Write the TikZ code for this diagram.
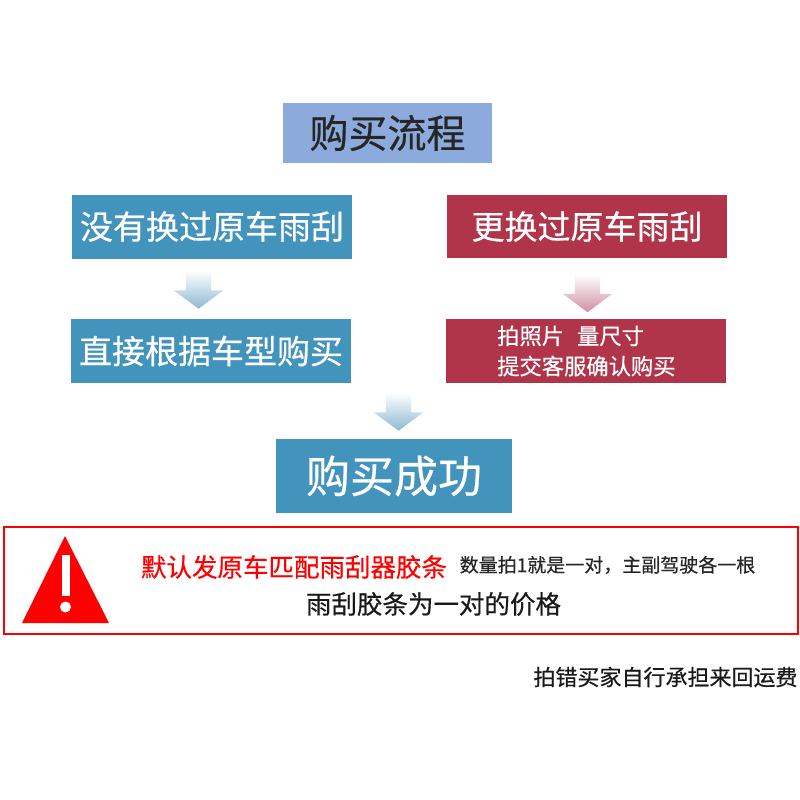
\documentclass[tikz,border=0pt]{standalone}
\usepackage{fontspec}
\setmainfont[FakeBold=0.5]{Noto Sans CJK SC}
\usetikzlibrary{shapes.arrows}
\definecolor{boxblue}{HTML}{4394BD}
\definecolor{boxred}{HTML}{B0344A}
\definecolor{titleblue}{HTML}{8CAADB}
\definecolor{arrowblue}{HTML}{8DB9D2}
\definecolor{arrowred}{HTML}{D08FA3}
\newcommand{\fs}[1]{\fontsize{#1}{#1}\selectfont}
\tikzset{
	flowbox/.style={inner sep=0pt, text=white, minimum width=280pt, minimum height=64pt},
	downarrow/.style={single arrow, shape border rotate=270, inner sep=0pt, text width=25pt, minimum height=38pt, single arrow head extend=12pt, single arrow head indent=0pt, single arrow tip angle=107, top color=white, draw=none}
}
\begin{document}
\begin{tikzpicture}[x=1pt, y=-1pt]
		\useasboundingbox (0,0) rectangle (800,800);
		\node[inner sep=0pt, fill=titleblue, text=black!85, minimum width=209pt, minimum height=60pt, font=\fs{39}] (title) at (387.5,133){购买流程};
		\node[flowbox, fill=boxblue, font=\fs{33}] (noswap) at (212,226.5){没有换过原车雨刮};
		\node[flowbox, fill=boxred, minimum height=63pt, font=\fs{33}] (swapped) at (587,226.5){更换过原车雨刮};
		\node[flowbox, fill=boxblue, font=\fs{33}] (direct) at (211,351){直接根据车型购买};
		\node[flowbox, fill=boxred] (photo) at (586,351){};
		\node[inner sep=0pt, anchor=west, align=left, text=white, font=\fs{22.3}] (phototext) at (497,351){拍照片\hspace{13pt}量尺寸\\[8pt]提交客服确认购买};
		\node[flowbox, fill=boxblue, minimum width=236pt, minimum height=74pt, font=\fs{44}] (success) at (394,476){购买成功};
		\node[downarrow, bottom color=arrowblue] (arrowa) at (198.5,285){};
		\node[downarrow, bottom color=arrowred] (arrowb) at (587.5,288.5){};
		\node[downarrow, bottom color=arrowblue] (arrowc) at (398.5,407){};
		\node[draw=red, line width=2.4pt, inner sep=0pt, minimum width=794pt, minimum height=107pt] (warnbox) at (401,580.5){};
		\fill[red] (65,536) -- (109,623) -- (22,623) -- cycle;
		\fill[white] (62,555) rectangle (69.5,596);
		\fill[white] (65.5,607) circle (5.5);
		\node[inner sep=0pt, text=red, font=\fs{25.5}] (defaulttext) at (294,567){默认发原车匹配雨刮器胶条};
		\node[inner sep=0pt, text=black!85, font=\fs{19}] (counttext) at (607.5,565){数量拍1就是一对，主副驾驶各一根};
		\node[inner sep=0pt, text=black!90, font=\fs{25.5}] (pricetext) at (433.5,604){雨刮胶条为一对的价格};
		\node[inner sep=0pt, text=black!90, font=\fs{22}] (wrongtext) at (665.5,677){拍错买家自行承担来回运费};
		\end{tikzpicture}
\end{document}
